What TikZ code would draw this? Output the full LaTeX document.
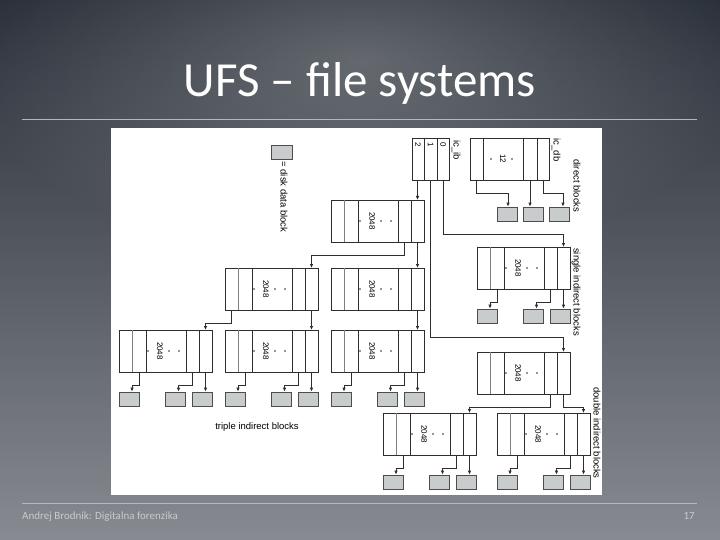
\documentclass[tikz,border=0pt]{standalone}
\usepackage{fontspec}
\setmainfont{Carlito}
\newfontfamily\figfont{Liberation Sans}
\usetikzlibrary{arrows.meta,fadings}

\definecolor{slidetop}{HTML}{282E37}
\definecolor{slidemid}{HTML}{4F555F}
\definecolor{slidebot}{HTML}{878A91}
\definecolor{rulegray}{HTML}{B4B7BC}
\definecolor{footgray}{HTML}{C9CBCF}
\definecolor{blkfill}{HTML}{C9CCCC}
\definecolor{boxline}{HTML}{2E2E2E}

\tikzfading[name=glowfade, inner color=transparent!20, outer color=transparent!100]

\tikzset{
	ptr/.style={draw=boxline, line width=0.85pt, -{Latex[length=4pt,width=3.5pt]}},
	boxedge/.style={draw=boxline, line width=0.85pt},
	softedge/.style={draw=gray, line width=0.5pt},
	datablk/.style={draw=boxline!85, fill=blkfill, line width=0.7pt, minimum width=20pt, minimum height=14pt, inner sep=0pt},
	lbl/.style={font=\figfont\fontsize{9.5}{10}\selectfont, rotate=-90, inner sep=0pt},
	numlbl/.style={font=\figfont\fontsize{8}{8}\selectfont, rotate=-90, inner sep=0pt},
	ellipsisdot/.style={circle, fill=boxline, inner sep=0pt, minimum size=1.7pt}
}

% pointer block: name, left x, top y
\newcommand{\ptrbox}[3]{
	\draw[boxedge] (#2,#3) rectangle ++(93,42);
	\draw[softedge] ({#2+13},#3) -- ++(0,42);
	\foreach \dx in {27,67,80}
		\draw[boxedge] ({#2+\dx},#3) -- ++(0,42);
	\node (#1-n) at ({#2+41},{#3+21}) [numlbl] {2048};
	\foreach \dx in {29,50,60}
		\node (#1-d\dx) at ({#2+\dx},{#3+21}) [ellipsisdot] {};
	\coordinate (#1-in) at ({#2+86.5},#3);
	\coordinate (#1-s1) at ({#2+6.5},{#3+42});
	\coordinate (#1-s2) at ({#2+20},{#3+42});
	\coordinate (#1-s4) at ({#2+73.5},{#3+42});
	\coordinate (#1-s5) at ({#2+86.5},{#3+42});
}

% three data blocks below a pointer block
\newcommand{\blkrow}[3]{
	\node (#1-b1) at ({#2+10},{#3+69}) [datablk] {};
	\node (#1-b2) at ({#2+56.5},{#3+69}) [datablk] {};
	\node (#1-b3) at ({#2+83},{#3+69}) [datablk] {};
	\draw[ptr] (#1-s2) -- ++(0,13) -| ([xshift=3pt]#1-b1.north);
	\draw[ptr] (#1-s4) -- ++(0,13) -| ([xshift=3pt]#1-b2.north);
	\draw[ptr] (#1-s5) -- (#1-s5 |- #1-b3.north);
}

\begin{document}
\begin{tikzpicture}[x=1pt, y=-1pt]
	\useasboundingbox (0,0) rectangle (720,540);
	% slide
	\shade[top color=slidetop, middle color=slidemid, bottom color=slidebot] (0,0) rectangle (720,540);
	\fill[white, fill opacity=0.3, path fading=glowfade] (360,60) ellipse [x radius=400, y radius=200];
	\node (title) at (360,97) [anchor=base, white, font=\fontsize{49}{55}\selectfont, inner sep=0pt] {UFS – file systems};
	\draw[rulegray, line width=0.8pt] (22,119) -- (697,119);
	\draw[rulegray, line width=0.8pt] (22,503) -- (697,503);
	\node (foot) at (22,519) [anchor=base west, footgray, font=\fontsize{11}{12}\selectfont, inner sep=0pt] {Andrej Brodnik: Digitalna forenzika};
	\node (pageno) at (695,519) [anchor=base east, footgray, font=\fontsize{11}{12}\selectfont, inner sep=0pt] {17};
	\fill[white] (111,128) rectangle (602,495);

	% legend
	\node (legblk) at (281.5,152) [datablk, minimum width=21pt] {};
	\node (legtxt) at (284,197) [lbl] {= disk data block};

	% inode: indirect pointers
	\draw[boxedge] (412,138) rectangle (449,180);
	\foreach \x in {424,437}
		\draw[boxedge] (\x,138) -- (\x,180);
	\node (ib2) at (418,145) [numlbl] {2};
	\node (ib1) at (430.5,145) [numlbl] {1};
	\node (ib0) at (443,145) [numlbl] {0};
	\node (icib) at (456,150) [lbl] {ic\_ib};
	\coordinate (ibc2) at (417.5,180);
	\coordinate (ibc1) at (430.5,180);
	\coordinate (ibc0) at (443,180);

	% inode: direct pointers
	\draw[boxedge] (470,138) rectangle (549,180);
	\foreach \x in {483,523,537}
		\draw[boxedge] (\x,138) -- (\x,180);
	\node (db12) at (503,159) [numlbl] {12};
	\node (dbd1) at (491,159) [ellipsisdot] {};
	\node (dbd2) at (512,159) [ellipsisdot] {};
	\node (icdb) at (556,150) [lbl] {ic\_db};
	\node (dirlbl) at (577,186) [lbl] {direct blocks};
	\coordinate (dbc1) at (476.5,180);
	\coordinate (dbc3) at (530,180);
	\coordinate (dbc4) at (543,180);
	\node (dir1) at (507,214) [datablk] {};
	\node (dir2) at (533,214) [datablk] {};
	\node (dir3) at (559,214) [datablk] {};
	\draw[ptr] (dbc1) -- ++(0,13) -| ([xshift=1pt]dir1.north);
	\draw[ptr] (dbc3) -- (dbc3 |- dir2.north);
	\draw[ptr] (dbc4) -- ++(0,13) -| ([xshift=4pt]dir3.north);

	% single indirect
	\ptrbox{SI}{477}{247}
	\blkrow{SI}{477}{247}
	\node (silbl) at (576,292) [lbl] {single indirect blocks};
	\draw[ptr] (ibc0) -- ++(0,54) -| (SI-in);

	% double indirect
	\ptrbox{D0}{477}{352}
	\ptrbox{D1}{383}{413}
	\blkrow{D1}{383}{413}
	\ptrbox{D2}{497}{413}
	\blkrow{D2}{497}{413}
	\node (dilbl) at (597,433) [lbl] {double indirect blocks};
	\draw[ptr] (ibc1) -- ++(0,157) -| (D0-in);
	\draw[ptr] (D0-s4) -- ++(0,13) -| (D1-in);
	\draw[ptr] (D0-s5) -- ++(0,13) -| (D2-in);

	% triple indirect
	\ptrbox{T1}{331}{200}
	\ptrbox{T2a}{225}{268}
	\ptrbox{T2b}{331}{268}
	\foreach \nm/\x in {T3a/119, T3b/225, T3c/331} {
		\ptrbox{\nm}{\x}{330}
		\blkrow{\nm}{\x}{330}
	}
	\node (tilbl) at (257,427) [font=\figfont\fontsize{9.5}{10}\selectfont, inner sep=0pt] {triple indirect blocks};
	\draw[ptr] (ibc2) -- (T1-in);
	\draw[ptr] (T1-s4) -- ++(0,13) -| (T2a-in);
	\draw[ptr] (T1-s5) -- (T2b-in);
	\draw[ptr] (T2a-s1) -- ++(0,13) -| (T3a-in);
	\draw[ptr] (T2a-s5) -- (T3b-in);
	\draw[ptr] (T2b-s5) -- (T3c-in);
\end{tikzpicture}
\end{document}
